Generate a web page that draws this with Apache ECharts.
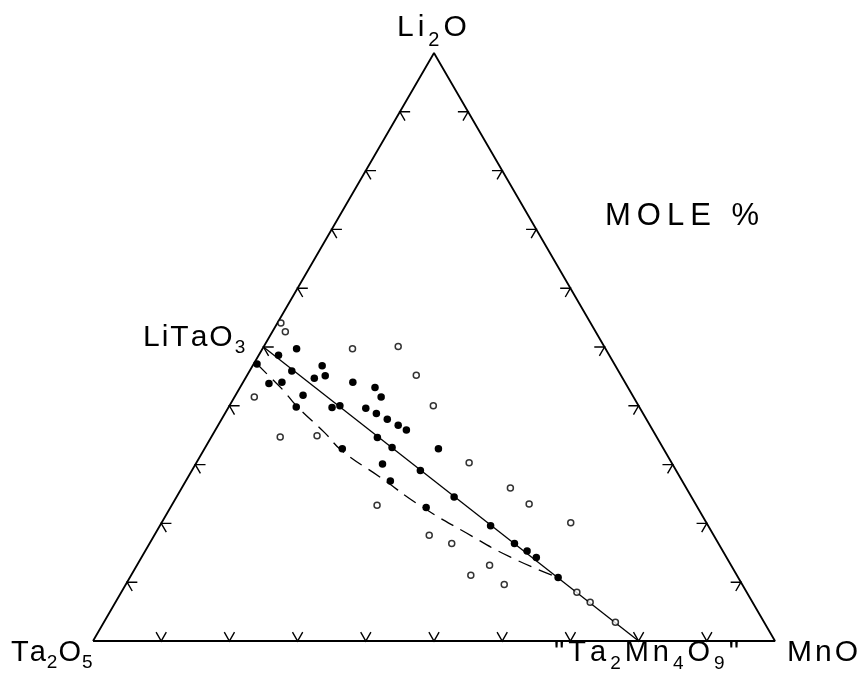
<!DOCTYPE html>
<html>
<head>
<meta charset="utf-8">
<title>Li2O–Ta2O5–MnO</title>
<script src="https://cdn.jsdelivr.net/npm/echarts@6/dist/echarts.min.js"></script>
<style>
  html, body { margin: 0; padding: 0; background: #fff; }
  #chart { width: 859px; height: 687px; }
</style>
</head>
<body>
<div id="chart"></div>
<script>
// Compositions in mole %, each point given as [Li2O, MnO]; Ta2O5 is the remainder.
const vertexComps = [[0, 0], [0, 100], [100, 0], [0, 0]]; // Ta2O5, MnO, Li2O, back to Ta2O5
const tieLine = [[50, 0], [0, 80]]; // LiTaO3 -> "Ta2Mn4O9"
const boundaryCurve = [
  [47.1, 0.5], [44.9, 3.5], [42.7, 6.5], [40.1, 9.7], [35.4, 16.3], [32.3, 20.4],
  [27.9, 28.1], [23.0, 36.5], [18.4, 45.5], [14.3, 54.0], [10.8, 62.8]
];
const openPoints = [
  [54.1, 0.5], [52.6, 1.9], [49.7, 13.2], [50.1, 19.7], [45.2, 24.8], [40.0, 29.9],
  [41.5, 2.9], [34.7, 10.1], [34.9, 15.4], [30.3, 40.0], [26.0, 48.2], [23.3, 52.3],
  [20.1, 60.0], [23.1, 30.1], [18.0, 40.3], [16.6, 44.3], [12.9, 51.7], [11.2, 49.8],
  [9.6, 55.5], [8.3, 66.8], [6.6, 69.6], [3.2, 75.0]
];
const filledPoints = [
  [48.6, 2.9], [49.7, 5.0], [47.1, 0.5], [45.9, 6.2], [46.8, 10.2], [44.7, 10.1],
  [45.1, 11.5], [43.8, 3.9], [44.0, 5.7], [44.0, 16.1], [43.1, 19.8], [41.5, 21.5],
  [41.8, 9.9], [39.8, 9.9], [39.7, 15.2], [40.0, 16.2], [39.6, 20.2], [38.7, 22.2],
  [37.7, 24.3], [36.7, 26.4], [35.9, 28.0], [34.6, 24.4], [32.9, 27.4], [32.7, 34.3],
  [32.7, 20.2], [30.1, 27.4], [27.2, 30.0], [29.0, 33.5], [24.5, 40.7], [22.7, 37.5],
  [19.6, 48.5], [16.6, 53.5], [15.3, 56.0], [14.2, 57.9], [10.8, 62.8]
];
// Tick positions (mole %) along every edge
const tickSteps = [10, 20, 30, 40, 50, 60, 70, 80, 90];

// Label texts: [characters, isSubscript]
const labelLi2O = [['Li', 0], ['2', 1], ['O', 0]];
const labelTa2O5 = [['Ta', 0], ['2', 1], ['O', 0], ['5', 1]];
const labelMnO = [['MnO', 0]];
const labelLiTaO3 = [['LiTaO', 0], ['3', 1]];
const labelTa2Mn4O9 = [['"Ta', 0], ['2', 1], ['Mn', 0], ['4', 1], ['O', 0], ['9', 1], ['"', 0]];
const labelMole = [['MOLE %', 0]];

const FONT = 'Liberation Sans';
const TICK = 1.5;

// ternary [Li2O, MnO] -> plotting plane (x along Ta2O5–MnO base, y towards Li2O)
function toXY(c) { return [c[1] + c[0] / 2, c[0]]; }

// Letter-spaced label with subscripts, built as rich text
function richLabel(parts, size, subSize, gap, drop) {
  const rich = {
    n: { fontFamily: FONT, fontSize: size, lineHeight: 30, verticalAlign: 'top', padding: [0, gap, 0, 0], color: '#000' },
    s: { fontFamily: FONT, fontSize: subSize, lineHeight: 20, verticalAlign: 'top', padding: [drop, gap, 0, 0], color: '#000' }
  };
  let text = '';
  parts.forEach(function (p) {
    for (const ch of p[0]) text += '{' + (p[1] ? 's' : 'n') + '|' + ch + '}';
  });
  return { text: text, rich: rich };
}

function textEl(x, y, lbl) {
  return {
    type: 'text', x: x, y: y, silent: true,
    style: { text: lbl.text, rich: lbl.rich, align: 'left', verticalAlign: 'top', fill: '#000' }
  };
}

const tickData = [];
tickSteps.forEach(function (k) { tickData.push([0, k], [1, k], [2, k]); });

const chart = echarts.init(document.getElementById('chart'), null, { renderer: 'canvas' });
chart.setOption({
  animation: false,
  backgroundColor: '#fff',
  grid: { left: 93, top: 53, width: 682, height: 588, containLabel: false },
  xAxis: { type: 'value', min: 0, max: 100, show: false },
  yAxis: { type: 'value', min: 0, max: 100, show: false },
  graphic: [
    textEl(397, 13, richLabel(labelLi2O, 30, 20, 4, 17)),
    textEl(605, 201, richLabel(labelMole, 31, 20, 6, 16)),
    textEl(143, 323, richLabel(labelLiTaO3, 30, 19, 2, 15)),
    textEl(11, 638, richLabel(labelTa2O5, 29, 19, 1, 15)),
    textEl(787, 638, richLabel(labelMnO, 30, 19, 3, 16)),
    textEl(554, 638, richLabel(labelTa2Mn4O9, 29, 19, 4, 16))
  ],
  series: [
    {
      type: 'line', data: vertexComps.map(toXY), symbol: 'none', silent: true,
      lineStyle: { color: '#000', width: 1.8 }, z: 2
    },
    {
      type: 'custom', data: tickData, silent: true, z: 2,
      renderItem: function (params, api) {
        const e = api.value(0), k = api.value(1), d = TICK;
        let p, a1, a2;
        if (e === 0) { p = [k, 0]; a1 = [k + d / 2, d]; a2 = [k - d / 2, d]; }
        else if (e === 1) { p = [k / 2, k]; a1 = [k / 2 + d, k]; a2 = [k / 2 + d / 2, k - d]; }
        else { p = [100 - k / 2, k]; a1 = [100 - k / 2 - d, k]; a2 = [100 - k / 2 - d / 2, k - d]; }
        return {
          type: 'polyline',
          shape: { points: [api.coord(a1), api.coord(p), api.coord(a2)] },
          style: { stroke: '#000', lineWidth: 1.4, fill: null }
        };
      }
    },
    {
      type: 'line', data: tieLine.map(toXY), symbol: 'none', silent: true,
      lineStyle: { color: '#000', width: 1.3 }, z: 3
    },
    {
      type: 'line', data: boundaryCurve.map(toXY), symbol: 'none', smooth: true, silent: true,
      lineStyle: { color: '#000', width: 1.3, type: [14, 8] }, z: 3
    },
    {
      type: 'scatter', data: openPoints.map(toXY), symbol: 'circle', symbolSize: 6, silent: true,
      itemStyle: { color: '#fff', borderColor: '#000', borderWidth: 1.5 }, z: 4
    },
    {
      type: 'scatter', data: filledPoints.map(toXY), symbol: 'circle', symbolSize: 7.5, silent: true,
      itemStyle: { color: '#000', opacity: 1 }, z: 5
    }
  ]
});
</script>
</body>
</html>
